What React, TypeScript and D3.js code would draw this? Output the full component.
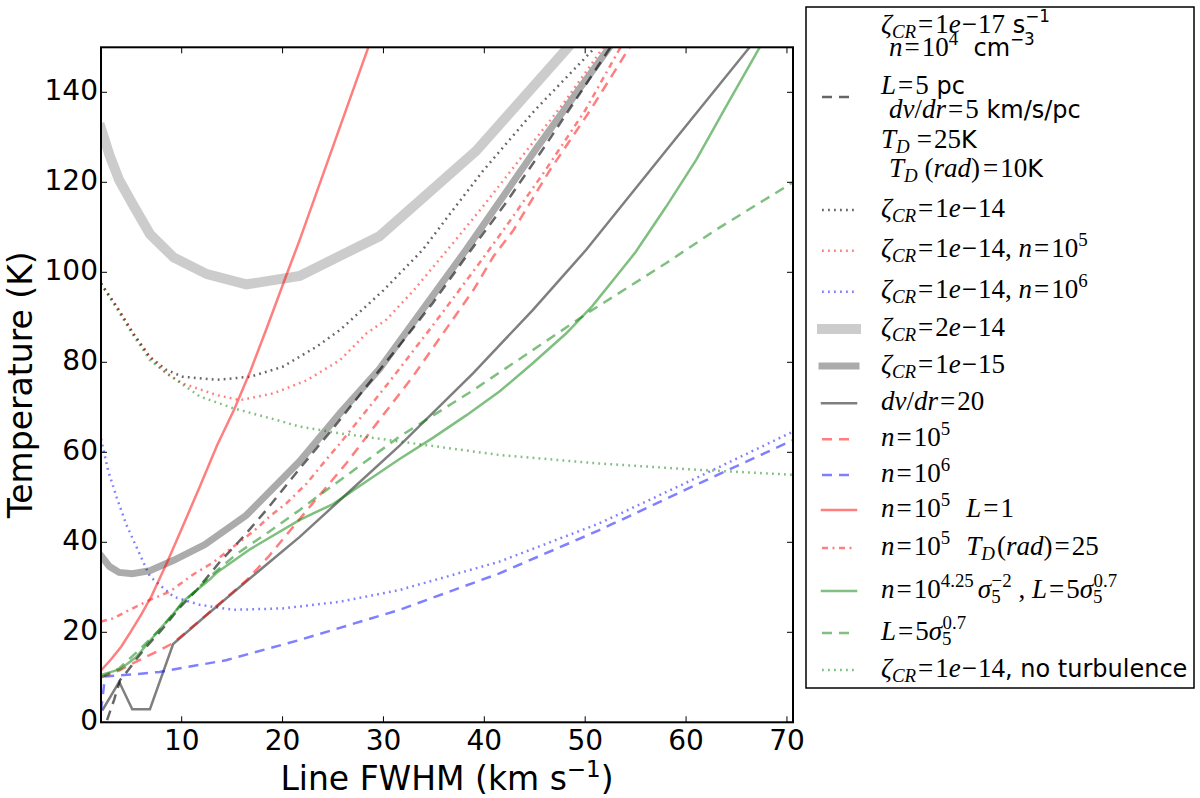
import * as d3 from 'd3';

type Pt = [number, number];

const xTicks = [10, 20, 30, 40, 50, 60, 70];
const yTicks = [0, 20, 40, 60, 80, 100, 120, 140];

// base model: zeta=1e-17, n=1e4, L=5pc, dv/dr=5, T_D=25K
const baseModel: Pt[] = [
  [2.6, 0.5], [3.3, 5], [3.9, 9.4], [4.7, 11.6], [5.7, 14.6], [6.5, 16.8], [8, 20.5], [9.8, 25.5],
  [11.5, 29.4], [13.8, 35.7], [16.1, 41.2], [18.4, 47.2], [21.7, 56.4], [25, 65.3], [28.3, 74.6],
  [31.6, 83.8], [34.9, 93.2], [38.2, 103.5], [42, 115], [46, 128], [50, 141.5], [52.5, 150],
];
const zeta14: Pt[] = [
  [2, 97.5], [3.55, 92.4], [5.2, 86.4], [6.85, 81.2], [8.5, 78.3], [10.1, 76.8], [13.5, 76.1],
  [16.8, 76.8], [20, 79], [23.4, 83.5], [25.7, 87.2], [28.3, 92.5], [30, 96], [33.9, 105],
  [36.6, 113], [39.85, 122.5], [45, 136], [51, 150],
];
const zeta14n5: Pt[] = [
  [2, 97.5], [3.55, 92.4], [5.2, 86.4], [6.85, 81], [8.5, 77.5], [10.1, 75.3], [13.5, 72.7],
  [15.8, 71.6], [19.1, 73.1], [22.4, 76], [25.7, 80.5], [28.3, 86.4], [30.3, 89.5], [33, 96],
  [36.9, 106.5], [40, 115], [44, 126.5], [48, 138], [51.8, 150],
];
const zeta14n6: Pt[] = [
  [2, 63], [2.7, 56], [3.55, 50], [4.5, 44], [5.2, 40.5], [6.85, 32.4], [9.2, 27.9], [11.8, 26.1],
  [15.1, 25], [20, 25.3], [25.7, 26.8], [31.6, 29.4], [41.5, 35.7], [51.4, 44.2], [61.3, 54.6],
  [70.6, 64.6],
];
const zeta2e14: Pt[] = [
  [2, 132], [2.85, 126], [3.8, 120.5], [5.1, 115.3], [6.85, 108.5], [9.2, 103.3], [12.5, 99.6],
  [16.4, 97.3], [21.7, 99.2], [29.6, 108], [39.2, 127], [48.5, 150.5],
];
const zeta1e15: Pt[] = [
  [2, 37], [2.85, 34.6], [3.8, 33.3], [5.1, 33], [6.85, 33.7], [9.2, 36], [12.3, 39.5], [16.4, 46],
  [21.7, 58], [25.7, 68.7], [29.6, 78.5], [38.2, 105], [45, 127], [52.4, 150],
];
const dvdr20: Pt[] = [
  [2.2, 2.9], [3.8, 9], [5.1, 2.9], [6.85, 2.9], [9.15, 17.4], [12.3, 23.5], [16.4, 31.3],
  [21.7, 41.2], [25.7, 49.4], [31.6, 61.5], [38.9, 77.6], [44.8, 91.6], [50.1, 105], [58, 127],
  [66.3, 150],
];
const n5: Pt[] = [
  [2, 10], [3.8, 11.5], [5.5, 13.5], [7.8, 16], [9.15, 17.6], [12.3, 23.6], [16.4, 31.5],
  [18.6, 36.8], [23, 48.7], [26.3, 57.5], [29.6, 67.2], [32.9, 76.8], [35.9, 86.4], [38.9, 96],
  [40.9, 103.5], [42.9, 109.4], [46.5, 122.7], [50.5, 136], [54.4, 150],
];
const n6: Pt[] = [
  [2, 2.5], [2.4, 10.2], [5, 10.6], [7.8, 11.2], [14.4, 13.8], [21.7, 18.3], [31.6, 25],
  [41.5, 33.1], [51.4, 42.7], [61.3, 53.1], [70.6, 62.7],
];
const n5L1: Pt[] = [
  [2, 11.5], [3, 14], [4, 16.8], [5, 20.3], [6, 24], [7, 28], [8.5, 35.3], [10, 43], [11.8, 52.4],
  [13.5, 61.5], [15.2, 69.5], [16.8, 78], [18.5, 88], [20.4, 99.5], [21.7, 107.2], [25, 128],
  [28.5, 150],
];
const n5Trad25: Pt[] = [
  [2, 22.4], [3.2, 23.1], [4.5, 24.6], [6.85, 27.2], [8.8, 29], [11.1, 32.8], [13.1, 35.5],
  [15.1, 39], [17.1, 42.4], [18.7, 45.7], [20.4, 48.7], [22.4, 53.1], [24.3, 58.3], [25.7, 62],
  [30.6, 75.7], [35, 88.5], [39.5, 102], [41.9, 109.4], [46, 122.5], [50, 136], [53.5, 150],
];
const nSigmaL: Pt[] = [
  [2, 10.5], [3.9, 11.8], [5.5, 14.5], [7, 18.5], [9.2, 24.2], [10.1, 26.8], [12.8, 31.8],
  [13.5, 33.3], [16.8, 38.5], [21.7, 45], [25, 48.5], [28.3, 53.5], [31.6, 58.5], [34.9, 63.2],
  [38.2, 68.2], [41.5, 73.5], [44.8, 79.8], [48.1, 86.4], [50.7, 92.5], [53.4, 100], [55, 104.5],
  [58, 114.5], [61, 125], [64, 137], [67.3, 150],
];
const lSigma: Pt[] = [
  [2, 10], [3.8, 12], [5.5, 15.5], [8, 21], [10.1, 26.5], [12.8, 32.4], [15.5, 37.5], [18.7, 42.4],
  [21.7, 47.2], [23, 49.4], [25.7, 53.8], [31.6, 63.5], [38.9, 73.8], [44.8, 82.7], [50.4, 91.2],
  [58, 102], [63, 109.5], [70.6, 120],
];
const noTurb: Pt[] = [
  [2, 97.5], [3.55, 92], [5.2, 86], [6.85, 80.5], [8.5, 77.6], [11.8, 72.4], [15.1, 69.8],
  [19.7, 67], [21.7, 65.7], [25.7, 64.2], [31.6, 62.4], [41.5, 59.4], [51.4, 57.5], [61.3, 56.1],
  [70.6, 55],
];

// legend label tokens: [text, style, dx?]; style m=math italic, r=math roman, s=sans, suffix _ sub, ^ sup
type Tok = [string, string, number?];
const zetaTok = (v: string): Tok[] => [['ζ', 'm'], ['CR', 'm_'], ['=', 'r', 2], [v[0], 'r', 2], ['e', 'm'], ['−', 'r', 1], [v.slice(2), 'r', 1]];
const baseLabel: Tok[][] = [
  [...zetaTok('1−17'), [' s', 's'], ['−1', 's^']],
  [['n', 'm'], ['=', 'r', 2], ['10', 'r', 2], ['4', 'r^'], ['  cm', 's'], ['−3', 's^']],
  [['L', 'm'], ['=', 'r', 2], ['5', 'r', 2], [' pc', 's']],
  [['dv', 'm'], ['/', 'r'], ['dr', 'm'], ['=', 'r', 2], ['5', 'r', 2], [' km/s/pc', 's']],
  [['T', 'm'], ['D', 'm_'], ['=', 'r', 7], ['25', 'r', 2], ['K', 's']],
  [['T', 'm'], ['D', 'm_'], [' (', 'r'], ['rad', 'm'], [')', 'r'], ['=', 'r', 3], ['10', 'r', 2], ['K', 's']],
];
const nTok = (e: string): Tok[] => [['n', 'm'], ['=', 'r', 2], ['10', 'r', 2], [e, 'r^']];
const legendLabels: Tok[][] = [
  zetaTok('1−14'),
  [...zetaTok('1−14'), [', ', 'r'], ...nTok('5')],
  [...zetaTok('1−14'), [', ', 'r'], ...nTok('6')],
  zetaTok('2−14'),
  zetaTok('1−15'),
  [['dv', 'm'], ['/', 'r'], ['dr', 'm'], ['=', 'r', 2], ['20', 'r', 2]],
  nTok('5'),
  nTok('6'),
  [...nTok('5'), ['L', 'm', 16], ['=', 'r', 2], ['1', 'r', 2]],
  [...nTok('5'), ['T', 'm', 16], ['D', 'm_'], ['(', 'r', 2], ['rad', 'm'], [')', 'r'], ['=', 'r', 2], ['25', 'r', 2]],
  [...nTok('4.25'), ['σ', 'm', 4], ['5', 'r_'], ['−2', 'r^', -9], [' , ', 'r'], ['L', 'm'], ['=', 'r', 2], ['5', 'r', 2], ['σ', 'm'], ['5', 'r_'], ['0.7', 'r^', -9]],
  [['L', 'm'], ['=', 'r', 2], ['5', 'r', 2], ['σ', 'm'], ['5', 'r_'], ['0.7', 'r^', -9]],
  [...zetaTok('1−14'), [', no turbulence', 's']],
];

const series = [
  { data: baseModel, color: '#000', op: 0.6, w: 2.5, dash: '10,7' },
  { data: zeta14, color: '#000', op: 0.6, w: 2.5, dash: '1.8,4.2' },
  { data: zeta14n5, color: '#f00', op: 0.5, w: 2.5, dash: '1.8,4.2' },
  { data: zeta14n6, color: '#00f', op: 0.5, w: 2.5, dash: '1.8,4.2' },
  { data: zeta2e14, color: '#000', op: 0.2, w: 10, dash: '' },
  { data: zeta1e15, color: '#000', op: 0.33, w: 7, dash: '' },
  { data: dvdr20, color: '#000', op: 0.5, w: 2.5, dash: '' },
  { data: n5, color: '#f00', op: 0.5, w: 2.5, dash: '10,7' },
  { data: n6, color: '#00f', op: 0.5, w: 2.5, dash: '10,7' },
  { data: n5L1, color: '#f00', op: 0.5, w: 2.5, dash: '' },
  { data: n5Trad25, color: '#f00', op: 0.5, w: 2.5, dash: '6,4.5,2,4.5' },
  { data: nSigmaL, color: '#008000', op: 0.5, w: 2.5, dash: '' },
  { data: lSigma, color: '#008000', op: 0.5, w: 2.5, dash: '10,7' },
  { data: noTurb, color: '#008000', op: 0.5, w: 2.5, dash: '1.8,4.2' },
];

const L = 101, R = 793, T = 47.3, B = 722.3;
const x = d3.scaleLinear().domain([2, 70.6]).range([L, R]);
const y = d3.scaleLinear().domain([0, 150]).range([B, T]);
const line = d3.line<Pt>().x(d => x(d[0])).y(d => y(d[1]));

const SANS = 'DejaVu Sans, sans-serif';
const SERIF = 'Liberation Serif, serif';

function MathText({ toks, x0, y0 }: { toks: Tok[]; x0: number; y0: number }) {
  let shift = 0;
  return (
    <text x={x0} y={y0} fill="#000">
      {toks.map((t, i) => {
        const [txt, st, dx] = t;
        const isSub = st.endsWith('_');
        const isSup = st.endsWith('^');
        const kind = st[0];
        const target = isSub ? 5 : isSup ? -11 : 0;
        const dy = target - shift;
        shift = target;
        const base = kind === 's' ? 24 : 27;
        const fs = isSub || isSup ? base * 0.7 : base;
        return (
          <tspan key={i} dx={dx ?? 0} dy={dy} fontFamily={kind === 's' ? SANS : SERIF}
            fontStyle={kind === 'm' ? 'italic' : 'normal'} fontSize={fs}
            style={{ whiteSpace: 'pre' }}>{txt}</tspan>
        );
      })}
    </text>
  );
}

const baseLineY = [33, 56, 94, 118, 148, 177];
const baseLineX = [881, 889, 881, 889, 881, 889];
const handleY = [210, 250.7, 291.7, 329, 366, 403.3, 439.3, 475, 510, 548, 591, 633, 670];

function Handle({ s, yy }: { s: typeof series[number]; yy: number }) {
  return (
    <line x1={822} x2={856} y1={yy} y2={yy} stroke={s.color} strokeOpacity={s.op} strokeWidth={s.w}
      strokeDasharray={s.dash || undefined} strokeLinecap={s.dash ? 'butt' : 'square'} />
  );
}

export default function App() {
  return (
    <svg width={1200} height={798} style={{ position: 'absolute', left: 0, top: 0, background: '#fff' }}>
      <defs>
        <clipPath id="plot"><rect x={L} y={T} width={R - L} height={B - T} /></clipPath>
      </defs>
      <g clipPath="url(#plot)" fill="none">
        {series.map((s, i) => (
          <path key={i} d={line(s.data) ?? ''} stroke={s.color} strokeOpacity={s.op} strokeWidth={s.w}
            strokeDasharray={s.dash || undefined} strokeLinecap={s.dash ? 'butt' : 'square'} strokeLinejoin="miter" />
        ))}
      </g>
      <rect x={L} y={T} width={R - L} height={B - T} fill="none" stroke="#000" strokeWidth={2} />
      {xTicks.map(t => (
        <g key={t}>
          <line x1={x(t)} x2={x(t)} y1={B} y2={B - 6} stroke="#000" strokeWidth={1} />
          <line x1={x(t)} x2={x(t)} y1={T} y2={T + 6} stroke="#000" strokeWidth={1} />
          <text x={x(t)} y={750} textAnchor="middle" fontFamily={SANS} fontSize={28}>{t}</text>
        </g>
      ))}
      {yTicks.map(t => (
        <g key={t}>
          <line x1={L} x2={L + 6} y1={y(t)} y2={y(t)} stroke="#000" strokeWidth={1} />
          <line x1={R} x2={R - 6} y1={y(t)} y2={y(t)} stroke="#000" strokeWidth={1} />
          <text x={98} y={y(t) + 7.5} textAnchor="end" fontFamily={SANS} fontSize={28}>{t}</text>
        </g>
      ))}
      <text x={(L + R) / 2} y={790} textAnchor="middle" fontFamily={SANS} fontSize={33}>
        Line FWHM (km s<tspan dy={-13} fontSize={23}>−1</tspan><tspan dy={13}>)</tspan>
      </text>
      <text transform={`translate(31.5,${(T + B) / 2}) rotate(-90)`} textAnchor="middle" fontFamily={SANS} fontSize={33}>
        Temperature (K)
      </text>
      <rect x={806} y={7} width={388} height={681} fill="#fff" stroke="#000" strokeWidth={1.5} />
      <Handle s={series[0]} yy={97} />
      {baseLabel.map((toks, i) => (
        <MathText key={i} toks={toks} x0={baseLineX[i]} y0={baseLineY[i]} />
      ))}
      {legendLabels.map((toks, i) => (
        <g key={i}>
          <Handle s={series[i + 1]} yy={handleY[i]} />
          <MathText toks={toks} x0={881} y0={handleY[i] + 6.5} />
        </g>
      ))}
    </svg>
  );
}
